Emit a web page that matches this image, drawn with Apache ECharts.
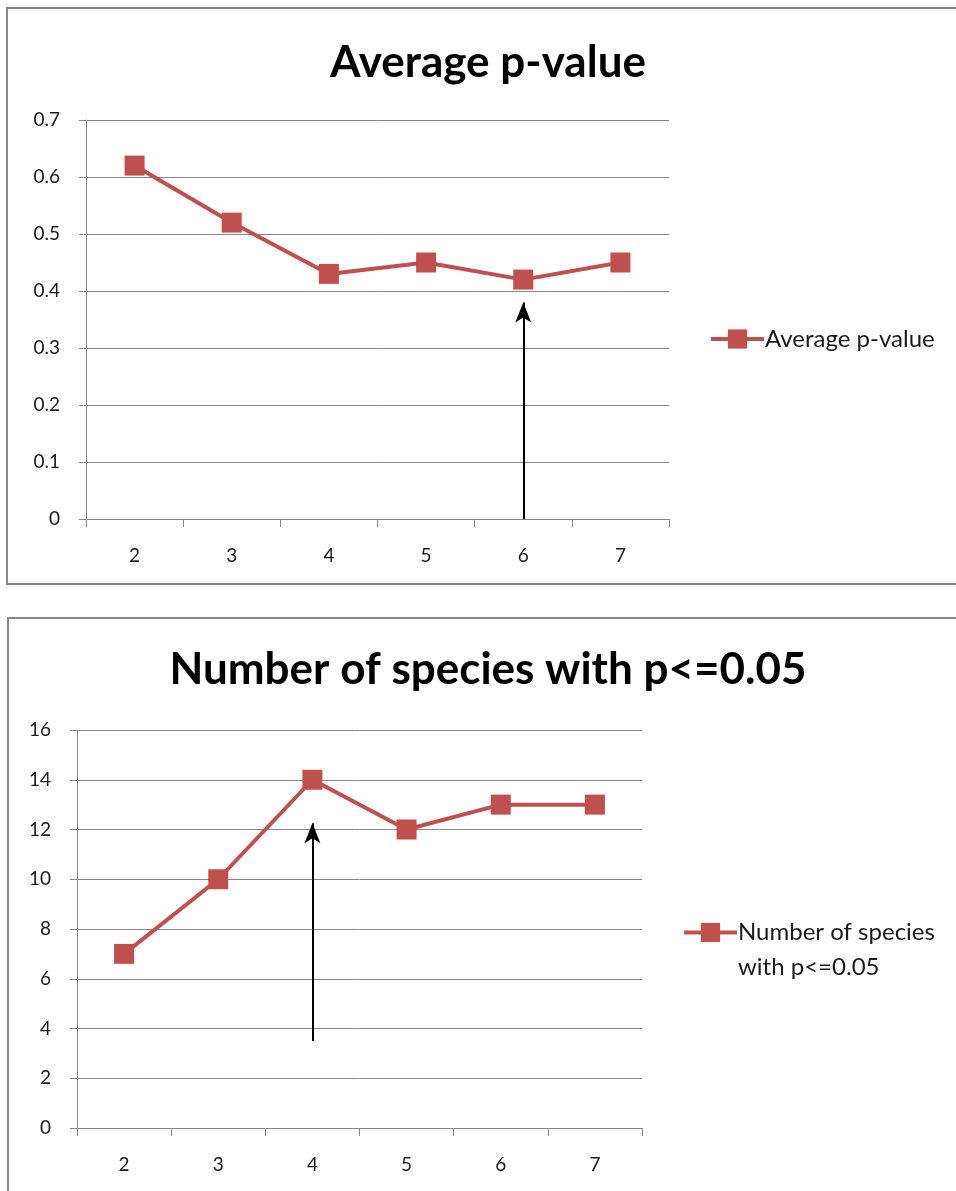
<!DOCTYPE html>
<html>
<head>
<meta charset="utf-8">
<script src="https://cdn.jsdelivr.net/npm/echarts@6/dist/echarts.min.js"></script>
<style>
html,body{margin:0;padding:0;background:#fff;}
#chart{width:956px;height:1191px;}
</style>
</head>
<body>
<div id="chart"></div>
<script>
// ---- data ----
const categories = ['2', '3', '4', '5', '6', '7'];
const pValueName = 'Average p-value';
const pValues = [0.62, 0.52, 0.43, 0.45, 0.42, 0.45];
const pTicks = { min: 0, max: 0.7, interval: 0.1 };
const speciesName = 'Number of species with p<=0.05';
const speciesCounts = [7, 10, 14, 12, 13, 13];
const speciesTicks = { min: 0, max: 16, interval: 2 };
// arrows: category, start value, end value
const arrowTop = ['6', 0, 0.38];
const arrowBottom = ['4', 3.5, 12.25];

// ---- styles ----
const RED = '#C0504D';
const GRID = '#878787';
const TXT = '#1a1a1a';
const FONT = 'Lato, "Open Sans", sans-serif';

const chart = echarts.init(document.getElementById('chart'), null, { renderer: 'canvas' });

function xAxisCfg(gridIndex) {
  return {
    type: 'category', gridIndex, data: categories, boundaryGap: true,
    axisLine: { lineStyle: { color: GRID, width: 1 } },
    axisTick: { show: true, length: 8, lineStyle: { color: GRID } },
    axisLabel: { color: TXT, fontSize: 19, fontFamily: FONT, margin: 27 },
    splitLine: { show: false }
  };
}
function yAxisCfg(gridIndex, t, fmt) {
  return {
    type: 'value', gridIndex, min: t.min, max: t.max, interval: t.interval,
    axisLine: { show: true, lineStyle: { color: GRID, width: 1 } },
    axisTick: { show: true, length: 7, lineStyle: { color: GRID } },
    axisLabel: { color: TXT, fontSize: 19, fontFamily: FONT, margin: 26, formatter: fmt },
    splitLine: { show: true, lineStyle: { color: GRID, width: 1 } }
  };
}
function arrowLine(a) {
  return {
    silent: true,
    symbol: ['none', 'arrow'],
    symbolSize: [12, 20],
    label: { show: false },
    lineStyle: { color: '#000', width: 2, type: 'solid' },
    data: [[{ coord: [a[0], a[1]] }, { coord: [a[0], a[2]] }]]
  };
}
function lineSeries(name, data, idx, arrow) {
  return {
    name, type: 'line', data, xAxisIndex: idx, yAxisIndex: idx,
    symbol: 'rect', symbolSize: 20, showSymbol: true,
    lineStyle: { color: RED, width: 4 },
    itemStyle: { color: RED },
    animation: false,
    markLine: arrowLine(arrow)
  };
}

chart.setOption({
  animation: false,
  backgroundColor: '#fff',
  title: [
    { text: 'Average p-value', left: 483, top: 36, textAlign: 'center',
      textStyle: { fontSize: 44, fontWeight: 'bold', color: '#000', fontFamily: FONT } },
    { text: 'Number of species with p<=0.05', left: 483, top: 643, textAlign: 'center',
      textStyle: { fontSize: 44, fontWeight: 'bold', color: '#000', fontFamily: FONT } }
  ],
  legend: [
    { data: [pValueName], left: 704, top: 322, orient: 'vertical',
      itemWidth: 53, itemHeight: 24, itemGap: 0,
      lineStyle: { width: 4 },
      textStyle: { fontSize: 24, color: '#1a1a1a', fontFamily: FONT, padding: [0, 0, 0, -4] } },
    { data: [speciesName], left: 677, top: 875, orient: 'vertical',
      itemWidth: 53, itemHeight: 24, itemGap: 0,
      lineStyle: { width: 4 },
      formatter: () => ' \nNumber of species\nwith p<=0.05',
      textStyle: { fontSize: 24, color: '#1a1a1a', fontFamily: FONT, lineHeight: 35, padding: [0, 0, 0, -4] } }
  ],
  grid: [
    { left: 86, right: 956 - 669, top: 120, bottom: 1191 - 519, containLabel: false },
    { left: 77, right: 956 - 642, top: 730, bottom: 1191 - 1128, containLabel: false }
  ],
  xAxis: [xAxisCfg(0), xAxisCfg(1)],
  yAxis: [
    yAxisCfg(0, pTicks, v => (v === 0 ? '0' : v.toFixed(1))),
    yAxisCfg(1, speciesTicks, v => String(v))
  ],
  graphic: [
    { type: 'rect', shape: { x: 7, y: 8, width: 980, height: 576 }, style: { fill: 'none', stroke: '#878787', lineWidth: 2 }, silent: true },
    { type: 'rect', shape: { x: 8, y: 618, width: 980, height: 620 }, style: { fill: 'none', stroke: '#878787', lineWidth: 2 }, silent: true }
  ],
  series: [
    lineSeries(pValueName, pValues, 0, arrowTop),
    lineSeries(speciesName, speciesCounts, 1, arrowBottom)
  ]
});
</script>
</body>
</html>
